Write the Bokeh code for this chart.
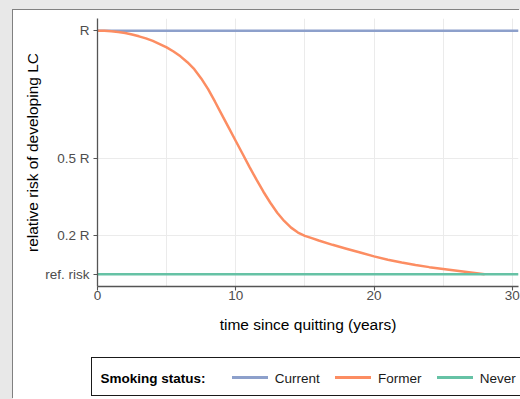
from bokeh.plotting import figure
from bokeh.layouts import column
from bokeh.models import Range1d, SingleIntervalTicker, FixedTicker, Div
from bokeh.embed import file_html
from bokeh.resources import INLINE

# ---- data ----
years_former = [0, 0.5, 1, 1.5, 2, 2.5, 3, 3.5, 4, 4.5, 5, 5.5, 6, 6.5, 7, 7.5, 8, 8.5,
                9, 9.5, 10, 10.5, 11, 11.5, 12, 12.5, 13, 13.5, 14, 14.5, 15, 15.5, 16,
                17, 18, 19, 20, 21, 22, 23, 24, 25, 26, 27, 28]
risk_former = [1.000, 0.9995, 0.998, 0.995, 0.991, 0.985, 0.978, 0.970, 0.960, 0.948,
               0.935, 0.919, 0.900, 0.877, 0.850, 0.814, 0.772, 0.723, 0.672, 0.621,
               0.570, 0.519, 0.468, 0.419, 0.372, 0.329, 0.290, 0.258, 0.232, 0.213,
               0.200, 0.191, 0.182,
               0.165, 0.150, 0.135, 0.120, 0.107, 0.096, 0.086, 0.078, 0.071, 0.064,
               0.057, 0.050]
years_flat = [0, 30.45]
risk_current = [1.0, 1.0]
risk_never = [0.05, 0.05]
y_ticks = [0.05, 0.2, 0.5, 1.0]
y_tick_labels = ["ref. risk", "0.2 R", "0.5 R", "R"]
legend_title = "Smoking status:"
statuses = ["Current", "Former", "Never"]
colors = ["#8DA0CB", "#FC8D62", "#66C2A5"]

FONT = "Liberation Sans"

# ---- main plot ----
p = figure(width=507, height=340, output_backend="svg", toolbar_location=None,
           x_range=Range1d(0, 30.45), y_range=Range1d(0.0025, 1.0475),
           min_border_left=84, min_border_right=2, min_border_top=8, min_border_bottom=64,
           background_fill_color="white", border_fill_color="white",
           outline_line_color=None,
           x_axis_label="time since quitting (years)",
           y_axis_label="relative risk of developing LC")

p.line(years_flat, risk_current, line_color=colors[0], line_width=2.5)
p.line(years_former, risk_former, line_color=colors[1], line_width=2.5)
p.line(years_flat, risk_never, line_color=colors[2], line_width=2.5)

p.xaxis.ticker = SingleIntervalTicker(interval=10, num_minor_ticks=2)
p.yaxis.ticker = FixedTicker(ticks=y_ticks)
p.yaxis.major_label_overrides = dict(zip(y_ticks, y_tick_labels))

for ax in (p.xaxis[0], p.yaxis[0]):
    ax.axis_line_color = "#555555"
    ax.axis_line_width = 1.3
    ax.major_tick_line_color = "#555555"
    ax.major_tick_line_width = 1.1
    ax.major_tick_out = 4
    ax.major_tick_in = 0
    ax.minor_tick_line_color = None
    ax.major_label_text_font = FONT
    ax.major_label_text_font_size = "13.5px"
    ax.major_label_text_color = "#4d4d4d"
    ax.axis_label_text_font = FONT
    ax.axis_label_text_font_size = "15.5px"
    ax.axis_label_text_font_style = "normal"
    ax.axis_label_text_color = "#000000"

p.xaxis.major_label_standoff = 0
p.xaxis.axis_label_standoff = 13
p.yaxis.major_label_standoff = 4
p.yaxis.axis_label_standoff = 1

p.xgrid.grid_line_color = "#ebebeb"
p.xgrid.minor_grid_line_color = "#ebebeb"
p.ygrid.grid_line_color = "#ebebeb"

# ---- legend strip (HTML, positions in px relative to the strip) ----
box_left, box_top, box_h = 78, 7, 39
title_left = 87.5
key_x0 = [218.7, 322.0, 423.7]
key_len = 36
label_gap = 7
text_top = 20.6
key_top = 26.4

parts = [f'<div style="position:absolute;left:{box_left}px;top:{box_top}px;width:700px;'
         f'height:{box_h}px;box-sizing:border-box;border:1px solid #1a1a1a;background:#fff;"></div>',
         f'<span style="position:absolute;left:{title_left}px;top:{text_top}px;'
         f'font-weight:bold;color:#000;white-space:nowrap;">{legend_title}</span>']
for s, c, x0 in zip(statuses, colors, key_x0):
    parts.append(f'<span style="position:absolute;left:{x0}px;top:{key_top}px;width:{key_len}px;'
                 f'height:2.2px;background:{c};"></span>')
    parts.append(f'<span style="position:absolute;left:{x0 + key_len + label_gap}px;top:{text_top}px;'
                 f'color:#1a1a1a;white-space:nowrap;">{s}</span>')
html = (f'<div style="position:relative;width:507px;height:49px;overflow:hidden;'
        f'font-family:\'{FONT}\';font-size:13.5px;line-height:16px;">' + "".join(parts) + '</div>')

lg = Div(text=html, width=507, height=49, margin=0)

root = column(p, lg, spacing=0)
root.styles = {"margin": "10px 0px 0px 13px",
               "box-shadow": "-1px -1px 0 0 #808080, 0 0 0 16px #e8e8e8"}

open("out.html", "w").write(file_html(root, INLINE))
